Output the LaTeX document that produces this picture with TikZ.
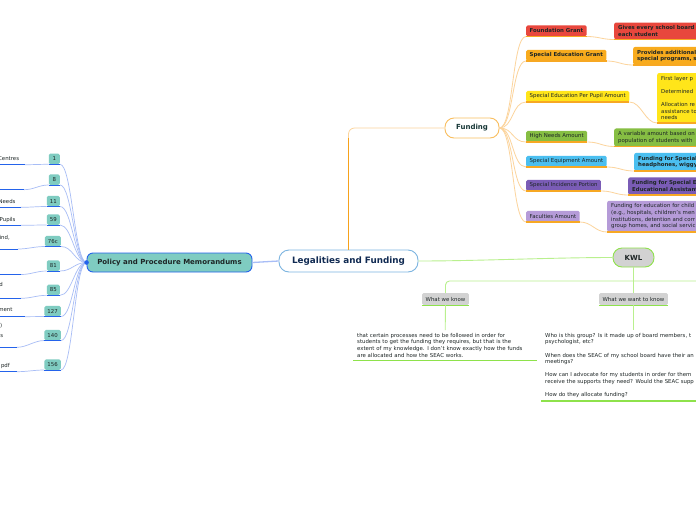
\documentclass[tikz,border=0pt]{standalone}
\usepackage{fontspec}
\setmainfont{DejaVu Sans}
\usepackage{xcolor}
\definecolor{colInk}{HTML}{1E2626}
\definecolor{colTitle}{HTML}{102A52}
\definecolor{colTitleLine}{HTML}{7CB4E0}
\definecolor{colOrange}{HTML}{F7A21B}
\definecolor{colOrangeSoft}{HTML}{FCD49C}
\definecolor{colHem}{HTML}{F7A823}
\definecolor{colBlue}{HTML}{2463EB}
\definecolor{colBlueSoft}{HTML}{A8BDF6}
\definecolor{colTeal}{HTML}{7FCCC1}
\definecolor{colGreen}{HTML}{8EE24B}
\definecolor{colGreenSoft}{HTML}{B9F08E}
\definecolor{colGrey}{HTML}{D2D2D2}
\definecolor{colRed}{HTML}{E8473D}
\definecolor{colAmber}{HTML}{F8AB1D}
\definecolor{colYellow}{HTML}{FFE51A}
\definecolor{colLeaf}{HTML}{86BE43}
\definecolor{colSky}{HTML}{4BBFF0}
\definecolor{colPurple}{HTML}{7A5CB6}
\definecolor{colLilac}{HTML}{B59BD8}
\usepackage{tikz}
\usetikzlibrary{positioning, calc}

\begin{document}
\begin{tikzpicture}[
		x=1pt, y=-1pt,
		every node/.style={inner sep=0pt, text=colInk},
		small/.style={font=\fontsize{5.4}{6.6}\selectfont},
		topic/.style={draw, line width=0.9pt, rounded corners=9pt, font=\bfseries\fontsize{7}{8}\selectfont},
		grant/.style={small, rounded corners=1.5pt, inner xsep=3.5pt, minimum height=11pt, anchor=south west},
		detail/.style={small, rounded corners=2pt, inner xsep=4pt, inner ysep=3pt, text width=130pt, align=left, anchor=south west},
		badge/.style={small, fill=colTeal, rounded corners=1.5pt, inner xsep=3pt, minimum height=10.5pt, minimum width=11pt, anchor=south east},
		frag/.style={small, anchor=base east},
		kwlbox/.style={small, fill=colGrey, rounded corners=1.5pt, minimum height=12pt, inner xsep=3.5pt},
		note/.style={small, inner xsep=4pt, inner ysep=3pt, align=left, anchor=north west},
		trunk/.style={colOrange, line width=1.4pt},
		twig/.style={colOrangeSoft, line width=0.8pt},
		hem/.style={colHem, line width=1.3pt},
		bluehem/.style={colBlue, line width=1pt},
		bluetwig/.style={colBlueSoft, line width=0.7pt},
		greenhem/.style={colGreen, line width=1.2pt},
		greentwig/.style={colGreenSoft, line width=0.9pt}
	]
	\fill[white] (0,0) rectangle (696,520);
	\useasboundingbox (0,0) rectangle (696,520);
	\clip (0,0) rectangle (696,520);

	% main topics
	\node[draw=colTitleLine, line width=0.9pt, fill=white, rounded corners=10pt,
	      minimum width=139pt, minimum height=22pt, text=colTitle,
	      font=\bfseries\fontsize{8.8}{10}\selectfont] (legal) at (348.5,261) {Legalities and Funding};
	\node[topic, draw=colOrange!70, fill=white, minimum width=54pt, minimum height=20pt,
	      text=colInk!80!teal] (fund) at (472,128) {Funding};
	\node[topic, draw=colBlue, fill=colTeal, rounded corners=6pt, minimum width=165pt,
	      minimum height=19pt] (ppm) at (169.5,262.5) {Policy and Procedure Memorandums};
	\node[topic, draw=colGreen, fill=colGrey, minimum width=41pt, minimum height=19pt] (kwl) at (633.5,257.5) {KWL};

	\draw[twig, rounded corners=6pt] (legal.north) |- (fund.west);
	\draw[trunk] (legal.north) -- ++(0,-112);
	\draw[colBlueSoft, line width=1.3pt] (legal.west) -- (ppm.east);
	\draw[greentwig] (legal.east) .. controls +(60,0) and +(-60,0) .. (kwl.west);

	% funding grants
	\node[grant, fill=colRed, font=\bfseries\fontsize{5.4}{6.6}\selectfont] (fg) at (526,36.5) {Foundation Grant};
	\node[grant, fill=colAmber, font=\bfseries\fontsize{5.4}{6.6}\selectfont] (seg) at (526,61) {Special Education Grant};
	\node[grant, fill=colYellow] (ppa) at (526,102) {Special Education Per Pupil Amount};
	\node[grant, fill=colLeaf] (hna) at (526,142) {High Needs Amount};
	\node[grant, fill=colSky] (sea) at (526,167) {Special Equipment Amount};
	\node[grant, fill=colPurple] (sip) at (526,191) {Special Incidence Portion};
	\node[grant, fill=colLilac] (faa) at (526,222) {Faculties Amount};

	\node[detail, fill=colRed, font=\bfseries\fontsize{5.4}{6.6}\selectfont] (fgx) at (614,39.5)
	     {Gives every school board\\each student};
	\node[detail, fill=colAmber, font=\bfseries\fontsize{5.4}{6.6}\selectfont] (segx) at (633,65)
	     {Provides additional\\special programs, s};
	\node[detail, fill=colYellow] (ppax) at (657,123)
	     {First layer p\\[6.6pt]Determined\\[6.6pt]Allocation re\\assistance to\\needs};
	\node[detail, fill=colLeaf] (hnax) at (614,146.5)
	     {A variable amount based on\\population of students with};
	\node[detail, fill=colSky, font=\bfseries\fontsize{5.4}{6.6}\selectfont] (seax) at (634,171)
	     {Funding for Special E\\headphones, wiggy c};
	\node[detail, fill=colPurple, font=\bfseries\fontsize{5.4}{6.6}\selectfont] (sipx) at (628,195)
	     {Funding for Special Ed\\Educational Assistants)};
	\node[detail, fill=colLilac] (faax) at (607,232)
	     {Funding for education for child\\(e.g., hospitals, children's men\\institutions, detention and corr\\group homes, and social servic};

	\foreach \g/\d in {fg/fgx, seg/segx, ppa/ppax, hna/hnax, sea/seax, sip/sipx, faa/faax} {
		\draw[twig] (fund.east) .. controls +(14,0) and +(-14,0) .. (\g.south west);
		\draw[twig] (\g.south east) .. controls +(12,0) and +(-12,0) .. (\d.south west);
		\draw[hem] (\g.south west) -- (\g.south east);
		\draw[hem] (\d.south west) -- (\d.south east);
	}

	% memorandum numbers
	\node[badge] (m1) at (60,164.3) {1};
	\node[badge] (m8) at (60,185) {8};
	\node[badge] (m11) at (60,206.5) {11};
	\node[badge] (m59) at (60,225) {59};
	\node[badge] (m76) at (61,246.5) {76c};
	\node[badge] (m81) at (60,271) {81};
	\node[badge] (m85) at (60,295.3) {85};
	\node[badge] (m127) at (61,316.5) {127};
	\node[badge] (m140) at (61,340.5) {140};
	\node[badge] (m156) at (61,370) {156};

	\node[frag] (c1) at (19.3,160.5) {Centres};
	\node[frag] (c11) at (15.7,203) {Needs};
	\node[frag] (c59) at (15.7,221) {Pupils};
	\node[frag] (c76) at (10,239) {lind,};
	\node[frag] (c85) at (3,286.5) {d};
	\node[frag] (c127) at (12.7,311.5) {ment};
	\node[frag] (c140) at (2.5,327) {)};
	\node[frag] (c140b) at (3.3,337) {s};
	\node[frag] (c156) at (10,367) {pdf};

	\coordinate (u1) at (25,164.7);
	\coordinate (u8) at (24,189.7);
	\coordinate (u11) at (21,207.3);
	\coordinate (u59) at (21,225.3);
	\coordinate (u76) at (18,249);
	\coordinate (u81) at (21,274.5);
	\coordinate (u85) at (21,298.3);
	\coordinate (u127) at (25,316.7);
	\coordinate (u140) at (17,347.3);
	\coordinate (u156) at (17,371.7);

	\foreach \n in {1,8,11,59,76,81,85,127,140,156} {
		\draw[bluetwig] (ppm.west) .. controls +(-12,0) and +(12,0) .. (m\n.south east);
		\draw[bluetwig] (u\n) .. controls +(10,0) and +(-10,0) .. (m\n.south west);
		\draw[bluehem] (m\n.south west) -- (m\n.south east);
		\draw[bluehem] (u\n) -- (u\n -| 0,0);
	}
	\fill[colBlue] (ppm.west) circle (2.3pt);

	% KWL
	\node[kwlbox] (know) at (445.5,299) {What we know};
	\node[kwlbox] (want) at (633.5,299) {What we want to know};
	\coordinate (kwlrun) at (700,281);
	\draw[greentwig] (kwl.south) -- (want.north);
	\draw[greentwig, rounded corners=4pt] (know.north) |- (kwlrun);
	\draw[greenhem] (know.south west) -- (know.south east);
	\draw[greenhem] (want.south west) -- (want.south east);

	\node[note, text width=176pt] (knowtxt) at (353,330)
	     {that certain processes need to be followed in order for\\students to get the funding they requires, but that is the\\extent of my knowledge. I don't know exactly how the funds\\are allocated and how the SEAC works.};
	\node[note, text width=200pt] (wanttxt) at (541,330)
	     {Who is this group? Is it made up of board members, t\\psychologist, etc?\\[6.6pt]When does the SEAC of my school board have their an\\meetings?\\[6.6pt]How can I advocate for my students in order for them\\receive the supports they need? Would the SEAC supp\\[6.6pt]How do they allocate funding?};
	\draw[greentwig] (know.south) -- (knowtxt.north);
	\draw[greentwig] (want.south) -- (want.south |- wanttxt.north);
	\draw[greenhem] (knowtxt.south west) -- (knowtxt.south east);
	\draw[greenhem] (wanttxt.south west) -- (wanttxt.south east);
\end{tikzpicture}
\end{document}
